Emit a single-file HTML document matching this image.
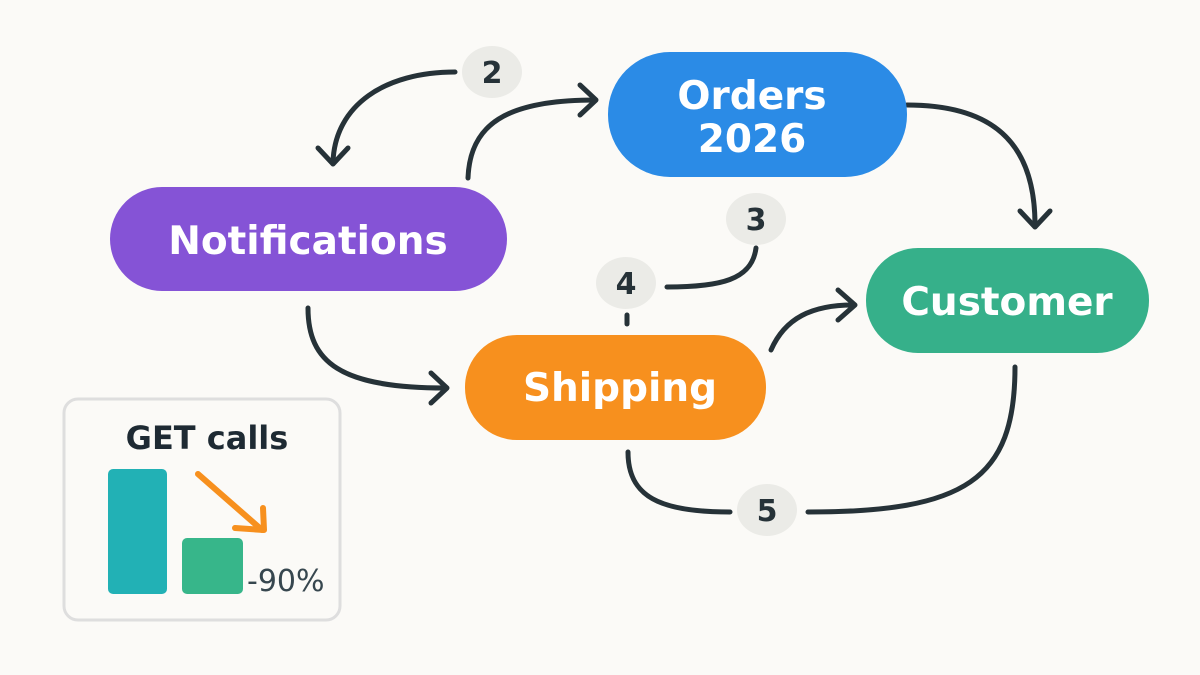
<!DOCTYPE html>
<html><head><meta charset="utf-8"><style>
html,body{margin:0;padding:0;background:#fbfaf7;}
svg{display:block;font-family:"DejaVu Sans","Liberation Sans",sans-serif;}
</style></head><body>
<svg width="1200" height="675" viewBox="0 0 1200 675" xmlns="http://www.w3.org/2000/svg">
<rect width="1200" height="675" fill="#fbfaf7"/>
<g fill="none" stroke="#263238" stroke-width="5" stroke-linecap="round" stroke-linejoin="round">
<path d="M455,72 C385,72 335,105 333,162"/><path d="M318,148 L333,164 L348,148"/>
<path d="M468,178 C470,125 505,100 595,100"/><path d="M580,85 L596,100 L580,115"/>
<path d="M907,105 C990,105 1035,140 1035,225"/><path d="M1020,211 L1035,227 L1050,211"/>
<path d="M756,248 C752,280 720,287 667,287"/>
<path d="M627,315 L627,324"/>
<path d="M308,308 C308,362 340,388 445,388"/><path d="M431,373 L447,388 L431,403"/>
<path d="M771,350 C785,318 812,305 853,305"/><path d="M838,290 L855,305 L838,320"/>
<path d="M628,452 C628,497 660,512 730,512"/>
<path d="M808,512 C965,512 1015,480 1015,367"/>
</g>
<g fill="#ebebe7">
<ellipse cx="492" cy="72" rx="30" ry="26"/>
<ellipse cx="756" cy="219" rx="30" ry="26"/>
<ellipse cx="626" cy="283" rx="30" ry="26"/>
<ellipse cx="767" cy="510" rx="30" ry="26"/>
</g>
<g fill="#263238" font-weight="bold" font-size="30" text-anchor="middle">
<text x="492" y="83">2</text><text x="756" y="230">3</text><text x="626" y="294">4</text><text x="767" y="521">5</text>
</g>
<rect x="608" y="52" width="299" height="125" rx="62" fill="#2b8be6"/>
<rect x="110" y="187" width="397" height="104" rx="52" fill="#8553d6"/>
<rect x="866" y="248" width="283" height="105" rx="52" fill="#36b08a"/>
<rect x="465" y="335" width="301" height="105" rx="52" fill="#f7901e"/>
<g fill="#fff" font-size="39" font-weight="bold" text-anchor="middle">
<text x="752" y="109">Orders</text><text x="752" y="152">2026</text>
<text x="308" y="254">Notifications</text>
<text x="1007" y="315">Customer</text>
<text x="620" y="401">Shipping</text>
</g>
<rect x="64" y="399" width="276" height="221" rx="14" fill="#fbfaf7" stroke="#dedede" stroke-width="3"/>
<text x="207" y="449" font-size="32" font-weight="bold" fill="#1e2a33" text-anchor="middle">GET calls</text>
<rect x="108" y="469" width="59" height="125" rx="5" fill="#22b1b5"/>
<rect x="182" y="538" width="61" height="56" rx="5" fill="#37b68a"/>
<g stroke="#f7901e" stroke-width="6" fill="none" stroke-linecap="round" stroke-linejoin="round">
<path d="M198,474 L262,530"/><path d="M235,528 L264,530 L263,508"/>
</g>
<text x="247" y="591" font-size="30" fill="#37474f">-90%</text>
</svg>
</body></html>
